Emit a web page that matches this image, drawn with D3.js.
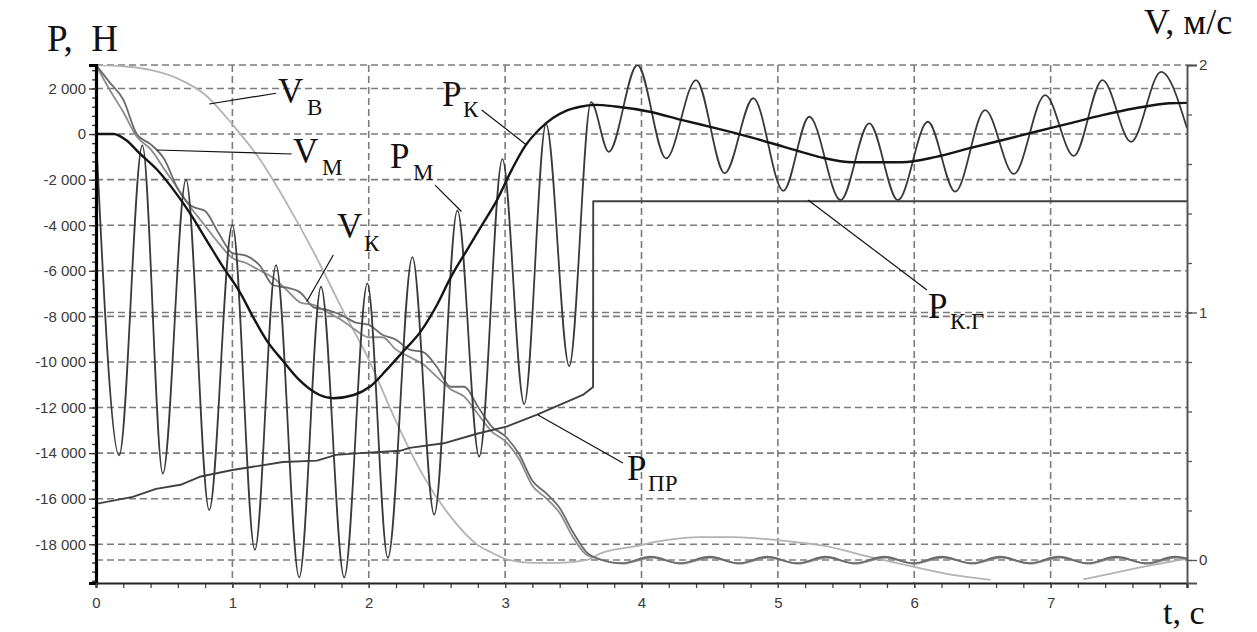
<!DOCTYPE html>
<html>
<head>
<meta charset="utf-8">
<script src="https://cdn.jsdelivr.net/npm/d3@7"></script>
<style>
  body { margin: 0; background: #fff; }
</style>
</head>
<body>
<div id="chart"></div>
<script>
// axis ticks
const tTicks = [0, 1, 2, 3, 4, 5, 6, 7];
const pTicks = [2000, 0, -2000, -4000, -6000, -8000, -10000, -12000, -14000, -16000, -18000];
const vTicks = [0, 1, 2];

// forces, N  [t, P]
const pK = [[0,0],[0.13,0],[0.22,-260],[0.32,-850],[0.45,-1580],[0.57,-2460],[0.69,-3480],[0.81,-4650],
  [0.93,-5820],[1.06,-6990],[1.15,-8010],[1.25,-9040],[1.37,-9950],[1.49,-10790],[1.64,-11450],[1.74,-11590],
  [1.89,-11450],[2.01,-11080],[2.13,-10350],[2.25,-9550],[2.38,-8670],[2.5,-7500],[2.6,-6300],[2.72,-5090],
  [2.83,-4000],[2.94,-2900],[3.05,-1550],[3.15,-500],[3.25,200],[3.35,700],[3.45,1030],[3.55,1200],[3.66,1280],
  [3.81,1210],[4.06,980],[4.3,610],[4.55,250],[4.79,-120],[5.04,-550],[5.3,-1000],[5.55,-1240],[5.91,-1240],
  [6.16,-1000],[6.4,-630],[6.65,-260],[6.89,100],[7.14,470],[7.38,830],[7.62,1130],[7.87,1350],[8,1370]];

const pM = [[0,0],[0.17,-14100],[0.34,-500],[0.49,-14900],[0.66,-2000],[0.83,-16500],[1.0,-4000],[1.165,-18250],
  [1.32,-5750],[1.49,-19450],[1.65,-6700],[1.82,-19450],[1.99,-6550],[2.14,-18600],[2.32,-5400],[2.48,-16700],
  [2.65,-3350],[2.81,-14150],[2.98,-1100],[3.14,-11850],[3.3,450],[3.47,-10180],[3.63,1400],[3.76,-780],
  [3.97,3030],[4.18,-1070],[4.4,2370],[4.61,-1720],[4.82,1570],[5.04,-2490],[5.23,760],[5.46,-2900],[5.67,470],
  [5.88,-2900],[6.1,540],[6.3,-2530],[6.52,1050],[6.73,-1750],[6.96,1710],[7.17,-960],[7.38,2370],[7.59,-340],
  [7.81,2730],[8,250]];

// P_ПР up to the jump, then P_К.Г
const pPr = [[0,-16230],[0.27,-15920],[0.44,-15570],[0.62,-15390],[0.76,-15040],[1.0,-14740],[1.15,-14600],
  [1.37,-14390],[1.62,-14330],[1.76,-14080],[1.94,-14000],[2.08,-13950],[2.23,-13900],[2.3,-13770],[2.55,-13570],
  [2.8,-13140],[3.01,-12840],[3.23,-12320],[3.43,-11810],[3.57,-11450],[3.645,-11100],[3.646,-2950],[8,-2950]];

// velocities, m/s  [t, V]
const vB = [[0,2.0],[0.2,1.995],[0.4,1.98],[0.6,1.945],[0.8,1.88],[1.0,1.76],[1.2,1.62],[1.4,1.44],[1.6,1.24],
  [1.8,1.02],[2.0,0.81],[2.2,0.56],[2.4,0.34],[2.6,0.175],[2.8,0.06],[2.9,0.03],[3.0,0.005],[3.2,-0.012],
  [3.4,-0.012],[3.6,0.0],[3.7,0.027],[3.94,0.054],[4.18,0.08],[4.43,0.092],[4.67,0.092],[4.92,0.084],
  [5.16,0.07],[5.31,0.06],[5.67,0.013],[5.99,-0.027],[6.28,-0.06],[6.56,-0.08],[6.9,null],[7.24,-0.078],
  [7.51,-0.047],[7.75,-0.02],[8,0.005]];

const vM = [[0,2.0],[0.1,1.93],[0.2,1.86],[0.3,1.72],[0.4,1.68],[0.5,1.62],[0.6,1.5],[0.7,1.43],[0.8,1.41],
  [0.9,1.32],[1.0,1.24],[1.1,1.23],[1.2,1.19],[1.3,1.11],[1.4,1.1],[1.5,1.08],[1.6,1.02],[1.7,1.01],[1.8,0.99],
  [1.9,0.96],[2.0,0.95],[2.1,0.91],[2.2,0.89],[2.3,0.85],[2.4,0.84],[2.5,0.78],[2.6,0.7],[2.7,0.7],[2.8,0.62],
  [2.9,0.54],[3.0,0.5],[3.1,0.43],[3.2,0.32],[3.3,0.27],[3.4,0.21],[3.5,0.11],[3.6,0.03],[3.64,0.015],
  [3.85,-0.013],[4.07,0.013],[4.28,-0.013],[4.5,0.013],[4.71,-0.013],[4.92,0.013],[5.14,-0.013],[5.35,0.013],
  [5.56,-0.013],[5.78,0.013],[5.99,-0.013],[6.2,0.013],[6.42,-0.013],[6.63,0.013],[6.84,-0.013],[7.06,0.013],
  [7.27,-0.013],[7.48,0.013],[7.7,-0.013],[7.91,0.013],[8,0.005]];

const vK = [[0,2.0],[0.1,1.9],[0.2,1.81],[0.3,1.71],[0.4,1.66],[0.5,1.58],[0.6,1.5],[0.7,1.42],[0.8,1.35],
  [0.9,1.28],[1.0,1.22],[1.1,1.2],[1.2,1.17],[1.3,1.14],[1.4,1.09],[1.5,1.04],[1.6,1.03],[1.7,1.0],[1.8,0.97],
  [1.9,0.93],[2.0,0.9],[2.1,0.9],[2.2,0.85],[2.3,0.82],[2.4,0.79],[2.5,0.74],[2.6,0.69],[2.7,0.66],[2.8,0.59],
  [2.9,0.52],[3.0,0.48],[3.1,0.41],[3.2,0.3],[3.3,0.25],[3.4,0.19],[3.5,0.09],[3.6,0.02],[3.64,0.012],
  [3.86,-0.015],[4.08,0.01],[4.29,-0.015],[4.51,0.01],[4.72,-0.015],[4.93,0.01],[5.15,-0.015],[5.36,0.01],
  [5.57,-0.015],[5.79,0.01],[6.0,-0.015],[6.21,0.01],[6.43,-0.015],[6.64,0.01],[6.85,-0.015],[7.07,0.01],
  [7.28,-0.015],[7.49,0.01],[7.71,-0.015],[7.92,0.01],[8,0.004]];

// series labels: main letter, subscript, anchor in (t, P), subscript offset px
const labels = [
  {main:"V", sub:"В",   t:1.335, p:1360,   dx:29, dy:12},
  {main:"V", sub:"М",   t:1.445, p:-1270,  dx:29, dy:12},
  {main:"V", sub:"К",   t:1.767, p:-4560,  dx:27, dy:13},
  {main:"P", sub:"М",   t:2.156, p:-1490,  dx:23, dy:12},
  {main:"P", sub:"К",   t:2.537, p:1230,   dx:21, dy:11},
  {main:"P", sub:"ПР",  t:3.894, p:-15180, dx:21, dy:11},
  {main:"P", sub:"К.Г", t:6.101, p:-8070,  dx:22, dy:11}
];
// leader lines [t1, P1, t2, P2]
const leaders = [
  [0.83, 1320, 1.32, 1790],
  [0.445, -700, 1.435, -875],
  [1.545, -7360, 1.74, -5310],
  [2.486, -2240, 2.68, -3400],
  [2.828, 1055, 3.157, -480],
  [3.241, -12330, 3.864, -14430],
  [5.221, -2890, 6.093, -6840]
];

const width = 1257, height = 632;
const m = {left: 96, right: 70, top: 65, bottom: 49};

const svg = d3.select("#chart").append("svg")
  .attr("width", width).attr("height", height)
  .style("font-family", "'Liberation Sans', Arial, sans-serif");

const x = d3.scaleLinear().domain([0, 8]).range([m.left, width - m.right]);
const yP = d3.scaleLinear().domain([-19700, 3030]).range([height - m.bottom, m.top]);
const yV = d3.scaleLinear().domain([-0.093, 2]).range([height - m.bottom, m.top]);

const loc = d3.formatLocale({decimal: ",", thousands: " ", grouping: [3], currency: ["", ""], minus: "-"});
const fmt = loc.format(",d");

const gridColor = "#7c7c7c";
const grid = svg.append("g").attr("stroke", gridColor).attr("stroke-width", 1.6)
  .attr("stroke-dasharray", "7,4").attr("fill", "none");

grid.selectAll(".gv").data(tTicks.filter(d => d > 0)).enter().append("line")
  .attr("x1", d => x(d)).attr("x2", d => x(d))
  .attr("y1", yP.range()[1]).attr("y2", yP.range()[0]);
grid.selectAll(".gp").data(pTicks).enter().append("line")
  .attr("x1", x(0)).attr("x2", x(8))
  .attr("y1", d => yP(d)).attr("y2", d => yP(d));
grid.selectAll(".gvv").data(vTicks).enter().append("line")
  .attr("x1", x(0)).attr("x2", x(8))
  .attr("y1", d => yV(d)).attr("y2", d => yV(d));

svg.append("clipPath").attr("id", "plot").append("rect")
  .attr("x", x(0)).attr("y", m.top).attr("width", x(8) - x(0)).attr("height", height - m.bottom - m.top);

const lineP = d3.line().x(d => x(d[0])).y(d => yP(d[1])).curve(d3.curveMonotoneX);
const lineV = d3.line().defined(d => d[1] !== null).x(d => x(d[0])).y(d => yV(d[1])).curve(d3.curveMonotoneX);
const lineStep = d3.line().x(d => x(d[0])).y(d => yP(d[1]));

const curves = svg.append("g").attr("clip-path", "url(#plot)").attr("fill", "none")
  .attr("stroke-linejoin", "round");

curves.append("path").datum(vB).attr("d", lineV).attr("stroke", "#b3b3b3").attr("stroke-width", 1.8);
curves.append("path").datum(vK).attr("d", lineV).attr("stroke", "#8c8c8c").attr("stroke-width", 1.8);
curves.append("path").datum(vM).attr("d", lineV).attr("stroke", "#6a6a6a").attr("stroke-width", 1.8);
curves.append("path").datum(pPr).attr("d", lineStep).attr("stroke", "#404040").attr("stroke-width", 1.9);
curves.append("path").datum(pM).attr("d", lineP).attr("stroke", "#3a3a3a").attr("stroke-width", 1.8);
curves.append("path").datum(pK).attr("d", lineP).attr("stroke", "#151515").attr("stroke-width", 2.4);

// axes
const minorP = d3.range(-19600, 3001, 400);
const minorT = d3.range(0, 8.01, 0.2);
const minorV = d3.range(0, 2.01, 0.2);

function styleAxis(g, col) {
  g.selectAll(".tick line").attr("stroke", col).attr("stroke-width", 1.3);
  g.selectAll(".tick text").attr("fill", "#3a3a3a").style("font-size", "15px")
    .style("font-family", "'Liberation Sans', Arial, sans-serif");
}

const gLm = svg.append("g").attr("transform", `translate(${x(0)},0)`)
  .call(d3.axisLeft(yP).tickValues(minorP).tickSize(4).tickFormat(""));
const gL = svg.append("g").attr("transform", `translate(${x(0)},0)`)
  .call(d3.axisLeft(yP).tickValues(pTicks).tickSize(7).tickPadding(3).tickFormat(fmt));
styleAxis(gLm, "#333"); styleAxis(gL, "#333");
gLm.select(".domain").remove();
gL.select(".domain").attr("stroke", "#000").attr("stroke-width", 3.2);

const gBm = svg.append("g").attr("transform", `translate(0,${yP.range()[0]})`)
  .call(d3.axisBottom(x).tickValues(minorT).tickSize(5).tickFormat(""));
const gB = svg.append("g").attr("transform", `translate(0,${yP.range()[0]})`)
  .call(d3.axisBottom(x).tickValues(tTicks).tickSize(5).tickPadding(9).tickFormat(d3.format("d")));
styleAxis(gBm, "#444"); styleAxis(gB, "#444");
gBm.select(".domain").remove();
gB.select(".domain").attr("stroke", "#222").attr("stroke-width", 2.2);

const gRm = svg.append("g").attr("transform", `translate(${x(8)},0)`)
  .call(d3.axisRight(yV).tickValues(minorV).tickSize(5).tickFormat(""));
const gR = svg.append("g").attr("transform", `translate(${x(8)},0)`)
  .call(d3.axisRight(yV).tickValues(vTicks).tickSize(10).tickPadding(2).tickFormat(d3.format("d")));
styleAxis(gRm, "#555"); styleAxis(gR, "#555");
gRm.select(".domain").remove();
gR.select(".domain").attr("stroke", "#555").attr("stroke-width", 2);

// leader lines
svg.append("g").selectAll("line").data(leaders).enter().append("line")
  .attr("x1", d => x(d[0])).attr("y1", d => yP(d[1]))
  .attr("x2", d => x(d[2])).attr("y2", d => yP(d[3]))
  .attr("stroke", "#111").attr("stroke-width", 1.2);

// series labels
const serif = "'Liberation Serif', 'Times New Roman', serif";
const lab = svg.append("g").style("font-family", serif).attr("fill", "#111");
labels.forEach(l => {
  const t = lab.append("text").attr("x", x(l.t)).attr("y", yP(l.p)).style("font-size", "35px");
  t.append("tspan").text(l.main);
  t.append("tspan").attr("x", x(l.t) + l.dx).attr("y", yP(l.p) + l.dy)
    .style("font-size", "23px").text(l.sub);
});

// axis titles
svg.append("text").attr("x", 47).attr("y", 51).style("font-family", serif)
  .style("font-size", "37px").attr("fill", "#111").attr("xml:space", "preserve").text("P,  Н");
svg.append("text").attr("x", 1144).attr("y", 34).style("font-family", serif)
  .style("font-size", "36px").attr("fill", "#111").text("V, м/с");
svg.append("text").attr("x", 1163).attr("y", 624).style("font-family", serif)
  .style("font-size", "34px").attr("fill", "#111").text("t, с");
</script>
</body>
</html>
